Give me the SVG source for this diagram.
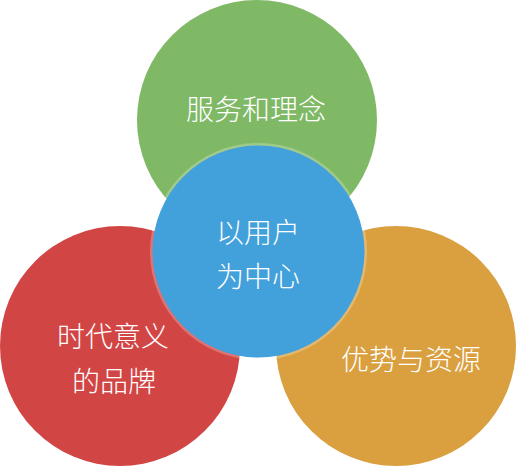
<svg xmlns="http://www.w3.org/2000/svg" width="516" height="466" viewBox="0 0 516 466">
<style>
.t{font-family:"Noto Sans CJK SC","Noto Sans",sans-serif;font-size:28px;font-weight:300;fill:#ffffff;text-anchor:middle;dominant-baseline:central}
</style>
<rect width="516" height="466" fill="#ffffff"/>
<g id="green">
<circle cx="257" cy="120" r="120" fill="#80B966"/>
<text class="t" x="256" y="108">服务和理念</text>
</g>
<g id="red">
<circle cx="120" cy="346" r="120" fill="#D24545"/>
<text class="t" x="113" y="335">时代意义</text>
<text class="t" x="114" y="380">的品牌</text>
</g>
<g id="orange">
<circle cx="396" cy="346" r="120" fill="#DAA040"/>
<text class="t" x="411" y="358">优势与资源</text>
</g>
<g id="blue">
<circle cx="258.5" cy="251.5" r="108.5" fill="#ffffff" fill-opacity="0.25"/>
<circle cx="258.5" cy="251.5" r="106" fill="#42A0DB"/>
<text class="t" x="258" y="231">以用户</text>
<text class="t" x="258" y="275">为中心</text>
</g>
<g id="connectors"></g>
</svg>
